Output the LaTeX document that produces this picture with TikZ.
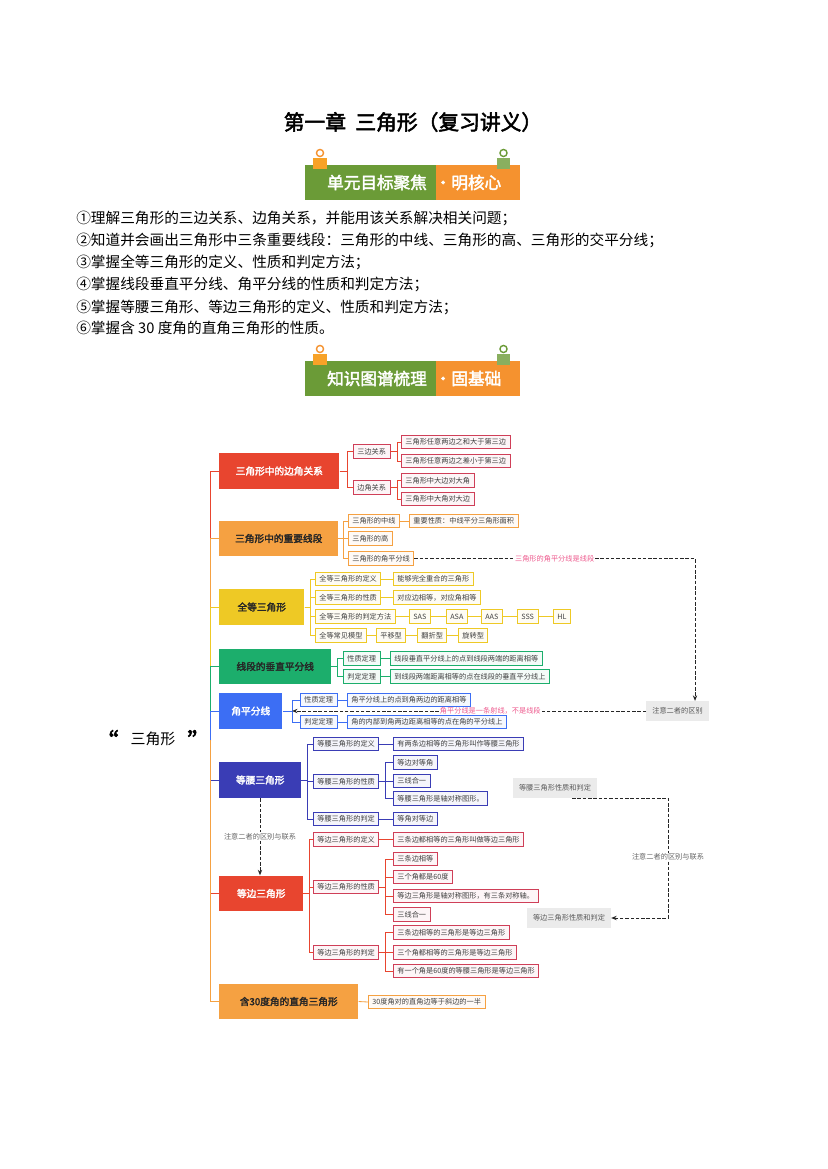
\documentclass[tikz,border=0pt]{standalone}
\usepackage{fontspec}
\setmainfont{Noto Sans CJK SC}[AutoFakeBold=2.5]
\usepackage{xcolor}
\usepackage{tikz}
\usetikzlibrary{arrows.meta,calc}
\definecolor{kRed}{HTML}{E8452F}
\definecolor{kOrange}{HTML}{F5A142}
\definecolor{kYellow}{HTML}{EEC925}
\definecolor{kGreen}{HTML}{1CAE6C}
\definecolor{kBlue}{HTML}{3C6EF4}
\definecolor{kIndigo}{HTML}{3A3DB5}
\definecolor{kCrimson}{HTML}{CF3F58}
\definecolor{bnGreen}{HTML}{6B9B37}
\definecolor{bnOrange}{HTML}{F5922F}
\definecolor{notePink}{HTML}{EE5A8E}
\definecolor{noteGray}{HTML}{EBEBEB}

\tikzset{
  topicbox/.style={fill=#1, anchor=west, minimum height=9.1mm, inner sep=0pt,
    font=\fontsize{7}{8}\selectfont\bfseries},
  leafbox/.style={draw=#1, fill=#1!5, line width=0.6pt, anchor=west,
    minimum height=3.4mm, inner xsep=1mm, inner ysep=0pt, text=black!75,
    font=\fontsize{5.2}{6}\selectfont},
  wire/.style={draw=#1, line width=0.6pt},
  notebox/.style={fill=noteGray, text=black!65, minimum height=5mm, inner xsep=1.5mm,
    font=\fontsize{5.2}{6}\selectfont},
  notetext/.style={fill=white, inner sep=0.7pt, font=\fontsize{5.2}{6}\selectfont},
  dashlink/.style={line width=0.7pt, black!85, dash pattern=on 0.9mm off 0.45mm},
  bannertext/.style={text=white, font=\fontsize{12}{14}\selectfont\bfseries},
  objline/.style={anchor=west, inner sep=0pt, font=\fontsize{10.6}{12}\selectfont},
}

\begin{document}
\begin{tikzpicture}[x=0.254mm, y=-0.254mm]
  \fill[white] (0,0) rectangle (827,1169);
  \useasboundingbox (0,0) rectangle (827,1169);

  % Title
  \node[font=\fontsize{15}{18}\selectfont\bfseries] (title) at (413,122) {第一章\hspace{0.45em}三角形（复习讲义）};

  % Banner 1
  \draw[bnOrange, line width=1pt] (320,153) circle (0.9mm);
  \draw[bnGreen, line width=1pt] (503.5,153) circle (0.9mm);
  \fill[bnGreen] (305,165) rectangle (436,200);
  \fill[bnOrange] (436,165) rectangle (520,200);
  \fill[bnOrange!85!yellow] (313,158) rectangle (327,169);
  \fill[bnGreen!80!white] (497,158) rectangle (510,169);
  \node[bannertext] (bn1a) at (377,182.5) {单元目标聚焦};
  \node[bannertext] (bn1b) at (468,182.5) {·明核心};

  % Objectives
  \node[objline] (obj1) at (76,218) {①理解三角形的三边关系、边角关系，并能用该关系解决相关问题；};
  \node[objline] (obj2) at (76,240) {②知道并会画出三角形中三条重要线段：三角形的中线、三角形的高、三角形的交平分线；};
  \node[objline] (obj3) at (76,262) {③掌握全等三角形的定义、性质和判定方法；};
  \node[objline] (obj4) at (76,284) {④掌握线段垂直平分线、角平分线的性质和判定方法；};
  \node[objline] (obj5) at (76,307) {⑤掌握等腰三角形、等边三角形的定义、性质和判定方法；};
  \node[objline] (obj6) at (76,328) {⑥掌握含 30 度角的直角三角形的性质。};

  % Banner 2
  \draw[bnOrange, line width=1pt] (320,349) circle (0.9mm);
  \draw[bnGreen, line width=1pt] (503.5,349) circle (0.9mm);
  \fill[bnGreen] (305,361) rectangle (436,396);
  \fill[bnOrange] (436,361) rectangle (520,396);
  \fill[bnOrange!85!yellow] (313,354) rectangle (327,365);
  \fill[bnGreen!80!white] (497,354) rectangle (510,365);
  \node[bannertext] (bn2a) at (377,378.5) {知识图谱梳理};
  \node[bannertext] (bn2b) at (468,378.5) {·固基础};

  % Root
  \node[font=\fontsize{10.8}{12}\selectfont, inner sep=0pt] (root) at (153,740)
    {\raisebox{-1.5mm}{\fontsize{17}{17}\selectfont\bfseries “}\hspace{0.8em}三角形\hspace{0.8em}\raisebox{-1.5mm}{\fontsize{17}{17}\selectfont\bfseries ”}};
  \coordinate (hub) at (210,740);

  % Main topics
  \node[topicbox=kRed, text=white, minimum width=30.5mm] (b1) at (219,471) {三角形中的边角关系};
  \node[topicbox=kOrange, text=black!85, minimum width=30.2mm] (b2) at (219,538.5) {三角形中的重要线段};
  \node[topicbox=kYellow, text=black!85, minimum width=21.6mm] (b3) at (219,607) {全等三角形};
  \node[topicbox=kGreen, text=black!85, minimum width=28.4mm] (b4) at (219,666.5) {线段的垂直平分线};
  \node[topicbox=kBlue, text=white, minimum width=16mm] (b5) at (219,711) {角平分线};
  \node[topicbox=kIndigo, text=white, minimum width=20.8mm] (b6) at (219,780) {等腰三角形};
  \node[topicbox=kRed, text=white, minimum width=21.3mm] (b7) at (219,893.5) {等边三角形};
  \node[topicbox=kOrange, text=black!85, minimum width=35.3mm] (b8) at (219,1001.5) {含30度角的直角三角形};

  % Trunk
  \draw[wire=kRed] (root.east) -- (hub) |- (b1.west);
  \draw[wire=kOrange] (hub) |- (b2.west);
  \draw[wire=kYellow] (hub) |- (b3.west);
  \draw[wire=kGreen] (hub) |- (b4.west);
  \draw[wire=kBlue] (hub) |- (b5.west);
  \draw[wire=kIndigo] (hub) |- (b6.west);
  \draw[wire=kRed] (hub) |- (b7.west);
  \draw[wire=kOrange] (root.east) -- (hub) |- (b8.west);

  % Topic 1
  \node[leafbox=kCrimson] (b1a) at (353,451.5) {三边关系};
  \node[leafbox=kCrimson] (b1b) at (353,487.5) {边角关系};
  \node[leafbox=kCrimson] (b1a1) at (401,442) {三角形任意两边之和大于第三边};
  \node[leafbox=kCrimson] (b1a2) at (401,461) {三角形任意两边之差小于第三边};
  \node[leafbox=kCrimson] (b1b1) at (401,480.5) {三角形中大边对大角};
  \node[leafbox=kCrimson] (b1b2) at (401,499) {三角形中大角对大边};
  \draw[wire=kRed] (b1.east) -- ++(8,0) |- (b1a.west);
  \draw[wire=kRed] (b1.east) -- ++(8,0) |- (b1b.west);
  \draw[wire=kRed] (b1a.east) -- ++(7,0) |- (b1a1.west);
  \draw[wire=kRed] (b1a.east) -- ++(7,0) |- (b1a2.west);
  \draw[wire=kRed] (b1b.east) -- ++(7,0) |- (b1b1.west);
  \draw[wire=kRed] (b1b.east) -- ++(7,0) |- (b1b2.west);

  % Topic 2
  \node[leafbox=kOrange] (b2a) at (348,521) {三角形的中线};
  \node[leafbox=kOrange] (b2a1) at (409,521) {重要性质：中线平分三角形面积};
  \node[leafbox=kOrange] (b2b) at (348,538.5) {三角形的高};
  \node[leafbox=kOrange] (b2c) at (348,558.5) {三角形的角平分线};
  \draw[wire=kOrange] (b2.east) -- ++(5,0) |- (b2a.west);
  \draw[wire=kOrange] (b2.east) -- ++(5,0) |- (b2b.west);
  \draw[wire=kOrange] (b2.east) -- ++(5,0) |- (b2c.west);
  \draw[wire=kOrange] (b2a.east) -- (b2a1.west);

  % Topic 3
  \node[leafbox=kYellow] (b3a) at (315,579) {全等三角形的定义};
  \node[leafbox=kYellow] (b3a1) at (393,579) {能够完全重合的三角形};
  \node[leafbox=kYellow] (b3b) at (315,597.5) {全等三角形的性质};
  \node[leafbox=kYellow] (b3b1) at (393,597.5) {对应边相等，对应角相等};
  \node[leafbox=kYellow] (b3c) at (315,616.5) {全等三角形的判定方法};
  \node[leafbox=kYellow] (sas) at (409,616.5) {SAS};
  \node[leafbox=kYellow] (asa) at (446,616.5) {ASA};
  \node[leafbox=kYellow] (aas) at (481,616.5) {AAS};
  \node[leafbox=kYellow] (sss) at (517,616.5) {SSS};
  \node[leafbox=kYellow] (hl) at (553,616.5) {HL};
  \node[leafbox=kYellow] (b3d) at (315,635.5) {全等常见模型};
  \node[leafbox=kYellow] (pingyi) at (376,635.5) {平移型};
  \node[leafbox=kYellow] (fanzhe) at (417,635.5) {翻折型};
  \node[leafbox=kYellow] (xuanzhuan) at (458,635.5) {旋转型};
  \draw[wire=kYellow] (b3.east) -- ++(6,0) |- (b3a.west);
  \draw[wire=kYellow] (b3.east) -- ++(6,0) |- (b3b.west);
  \draw[wire=kYellow] (b3.east) -- ++(6,0) |- (b3c.west);
  \draw[wire=kYellow] (b3.east) -- ++(6,0) |- (b3d.west);
  \draw[wire=kYellow] (b3a.east) -- (b3a1.west);
  \draw[wire=kYellow] (b3b.east) -- (b3b1.west);
  \draw[wire=kYellow] (b3c.east) -- (sas.west);
  \draw[wire=kYellow] (sas.east) -- (asa.west);
  \draw[wire=kYellow] (asa.east) -- (aas.west);
  \draw[wire=kYellow] (aas.east) -- (sss.west);
  \draw[wire=kYellow] (sss.east) -- (hl.west);
  \draw[wire=kYellow] (b3d.east) -- (pingyi.west);
  \draw[wire=kYellow] (pingyi.east) -- (fanzhe.west);
  \draw[wire=kYellow] (fanzhe.east) -- (xuanzhuan.west);

  % Topic 4
  \node[leafbox=kGreen] (b4a) at (343,658.5) {性质定理};
  \node[leafbox=kGreen] (b4a1) at (390,658.5) {线段垂直平分线上的点到线段两端的距离相等};
  \node[leafbox=kGreen] (b4b) at (343,676.5) {判定定理};
  \node[leafbox=kGreen] (b4b1) at (390,676.5) {到线段两端距离相等的点在线段的垂直平分线上};
  \draw[wire=kGreen] (b4.east) -- ++(6,0) |- (b4a.west);
  \draw[wire=kGreen] (b4.east) -- ++(6,0) |- (b4b.west);
  \draw[wire=kGreen] (b4a.east) -- (b4a1.west);
  \draw[wire=kGreen] (b4b.east) -- (b4b1.west);

  % Topic 5
  \coordinate (b5hub) at (292,711);
  \node[leafbox=kBlue] (b5a) at (300,700) {性质定理};
  \node[leafbox=kBlue] (b5a1) at (347,700) {角平分线上的点到角两边的距离相等};
  \node[leafbox=kBlue] (b5b) at (300,722) {判定定理};
  \node[leafbox=kBlue] (b5b1) at (347,722) {角的内部到角两边距离相等的点在角的平分线上};
  \draw[wire=kBlue] (b5.east) -- (b5hub) |- (b5a.west);
  \draw[wire=kBlue] (b5hub) |- (b5b.west);
  \draw[wire=kBlue] (b5a.east) -- (b5a1.west);
  \draw[wire=kBlue] (b5b.east) -- (b5b1.west);

  % Topic 6
  \node[leafbox=kIndigo] (b6a) at (313,744) {等腰三角形的定义};
  \node[leafbox=kIndigo] (b6a1) at (393,744) {有两条边相等的三角形叫作等腰三角形};
  \node[leafbox=kIndigo] (b6b) at (313,781.5) {等腰三角形的性质};
  \node[leafbox=kIndigo] (b6b1) at (393,762.5) {等边对等角};
  \node[leafbox=kIndigo] (b6b2) at (393,781) {三线合一};
  \node[leafbox=kIndigo] (b6b3) at (393,798.5) {等腰三角形是轴对称图形。};
  \node[leafbox=kIndigo] (b6c) at (313,819) {等腰三角形的判定};
  \node[leafbox=kIndigo] (b6c1) at (393,819) {等角对等边};
  \draw[wire=kIndigo] (b6.east) -- ++(6,0) |- (b6a.west);
  \draw[wire=kIndigo] (b6.east) -- ++(6,0) |- (b6b.west);
  \draw[wire=kIndigo] (b6.east) -- ++(6,0) |- (b6c.west);
  \draw[wire=kIndigo] (b6a.east) -- (b6a1.west);
  \draw[wire=kIndigo] (b6b.east) -- ++(6,0) |- (b6b1.west);
  \draw[wire=kIndigo] (b6b.east) -- ++(6,0) |- (b6b2.west);
  \draw[wire=kIndigo] (b6b.east) -- ++(6,0) |- (b6b3.west);
  \draw[wire=kIndigo] (b6c.east) -- (b6c1.west);

  % Topic 7
  \node[leafbox=kCrimson] (b7a) at (313,839.5) {等边三角形的定义};
  \node[leafbox=kCrimson] (b7a1) at (393,839.5) {三条边都相等的三角形叫做等边三角形};
  \node[leafbox=kCrimson] (b7b) at (313,887) {等边三角形的性质};
  \node[leafbox=kCrimson] (b7b1) at (393,859) {三条边相等};
  \node[leafbox=kCrimson] (b7b2) at (393,877) {三个角都是60度};
  \node[leafbox=kCrimson] (b7b3) at (393,896) {等边三角形是轴对称图形，有三条对称轴。};
  \node[leafbox=kCrimson] (b7b4) at (393,914.5) {三线合一};
  \node[leafbox=kCrimson] (b7c) at (313,952.5) {等边三角形的判定};
  \node[leafbox=kCrimson] (b7c1) at (393,932.5) {三条边相等的三角形是等边三角形};
  \node[leafbox=kCrimson] (b7c2) at (393,952.5) {三个角都相等的三角形是等边三角形};
  \node[leafbox=kCrimson] (b7c3) at (393,971) {有一个角是60度的等腰三角形是等边三角形};
  \draw[wire=kRed] (b7.east) -- ++(6,0) |- (b7a.west);
  \draw[wire=kRed] (b7.east) -- ++(6,0) |- (b7b.west);
  \draw[wire=kRed] (b7.east) -- ++(6,0) |- (b7c.west);
  \draw[wire=kRed] (b7a.east) -- (b7a1.west);
  \draw[wire=kRed] (b7b.east) -- ++(6,0) |- (b7b1.west);
  \draw[wire=kRed] (b7b.east) -- ++(6,0) |- (b7b2.west);
  \draw[wire=kRed] (b7b.east) -- ++(6,0) |- (b7b3.west);
  \draw[wire=kRed] (b7b.east) -- ++(6,0) |- (b7b4.west);
  \draw[wire=kRed] (b7c.east) -- ++(6,0) |- (b7c1.west);
  \draw[wire=kRed] (b7c.east) -- ++(6,0) |- (b7c2.west);
  \draw[wire=kRed] (b7c.east) -- ++(6,0) |- (b7c3.west);

  % Topic 8
  \node[leafbox=kOrange] (b8a) at (368,1002) {30度角对的直角边等于斜边的一半};
  \draw[wire=kOrange] (b8.east) -- (b8a.west);

  % Notes and relations
  \node[notebox, minimum width=15.5mm] (note1) at (677.5,711) {注意二者的区别};
  \node[notebox, minimum width=21.3mm] (note2) at (555,788) {等腰三角形性质和判定};
  \node[notebox, minimum width=20.8mm] (note3) at (569,918) {等边三角形性质和判定};
  \coordinate (t1) at (695,558.5);
  \coordinate (t3) at (668,918);
  \draw[dashlink, -{Stealth[length=1.4mm,width=1.1mm]}] (b2c.east)
    -- node[notetext, text=notePink, pos=0.5] (lbl1) {三角形的角平分线是线段} (t1)
    -- (t1 |- note1.north);
  \draw[dashlink, -{Stealth[length=1.4mm,width=1.1mm]}] (note1.west)
    -- node[notetext, text=notePink, pos=0.44] (lbl2) {角平分线是一条射线，不是线段} (b5hub);
  \draw[dashlink, -{Stealth[length=1.4mm,width=1.1mm]}] ([xshift=-6.4mm]note2.south east)
    -| (t3) -- (note3.east);
  \node[notetext, text=black!60] (lbl3) at (668,857) {注意二者的区别与联系};
  \draw[dashlink, -{Stealth[length=1.4mm,width=1.1mm]}] (b6.south -| 260,0)
    -- node[notetext, text=black!60] (lbl4) {注意二者的区别与联系} (b7.north -| 260,0);
\end{tikzpicture}
\end{document}
